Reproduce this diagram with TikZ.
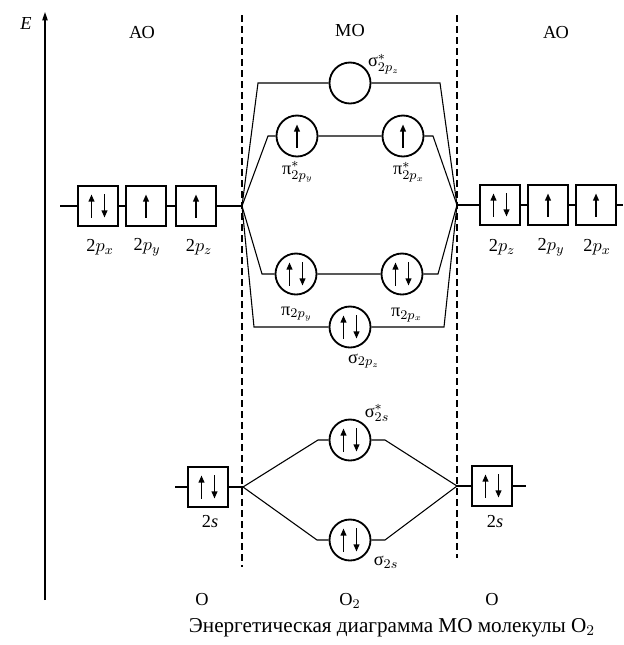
\documentclass[tikz,border=0pt]{standalone}
\usepackage{fontspec}
\setmainfont{Liberation Serif}
\usetikzlibrary{positioning,arrows.meta}
\tikzset{
  spin/.style={-{Triangle[length=4.4pt,width=3.4pt]}, line width=1.1pt},
  axis/.style={-{Triangle[length=5pt,width=3.2pt]}, line width=0.7pt},
  aobox/.style={draw, line width=1.1pt, minimum size=24pt, inner sep=0pt},
  mocirc/.style={draw, circle, line width=1.1pt, minimum size=24.6pt, inner sep=0pt},
  level/.style={line width=0.65pt},
  divider/.style={line width=0.75pt, dash pattern=on 4pt off 2.6pt},
  lab/.style={inner sep=1pt}
}
\newcommand{\spinup}[1]{\draw[spin] ([yshift=-7pt]#1.center) -- ([yshift=7pt]#1.center);}
\newcommand{\spinpair}[1]{%
  \draw[spin] ([xshift=-3.9pt,yshift=-7pt]#1.center) -- ([xshift=-3.9pt,yshift=7pt]#1.center);
  \draw[spin] ([xshift=3.9pt,yshift=7pt]#1.center) -- ([xshift=3.9pt,yshift=-7pt]#1.center);}

\begin{document}
\begin{tikzpicture}[x=0.6pt, y=-0.6pt, every node/.style={font=\fontsize{11}{13}\selectfont}]
  \useasboundingbox (0,0) rectangle (623,645);
  % energy axis and borders
  \coordinate (ebot) at (45,600);
  \coordinate (etop) at (45,12);
  \draw[axis] (ebot) -- (etop);
  \node[lab] (elab) at (26,23) {\textit{E}};
  \coordinate (dlt) at (242,15); \coordinate (dlb) at (242,567);
  \coordinate (drt) at (457,15); \coordinate (drb) at (457,558);
  \draw[divider] (dlt) -- (dlb);
  \draw[divider] (drt) -- (drb);
  \node[lab] (aoleft) at (142,33) {АО};
  \node[lab] (mohead) at (350,31) {МО};
  \node[lab] (aoright) at (556,33) {АО};

  % convergence points
  \coordinate (cL) at (242,206);  \coordinate (cR) at (457,205);
  \coordinate (cLs) at (243,487); \coordinate (cRs) at (457,486);

  % 2p atomic orbitals
  \node[aobox] (lpx) at (98,206) {};
  \node[aobox] (lpy) at (146,206) {};
  \node[aobox] (lpz) at (196,206) {};
  \node[aobox] (rpz) at (500,205) {};
  \node[aobox] (rpy) at (548,205) {};
  \node[aobox] (rpx) at (596,205) {};
  \coordinate (lpend) at (60,206); \coordinate (rpend) at (623,205);
  \draw[level] (lpend) -- (lpx) -- (lpy) -- (lpz) -- (cL);
  \draw[level] (cR) -- (rpz) -- (rpy) -- (rpx) -- (rpend);
  \spinpair{lpx} \spinup{lpy} \spinup{lpz}
  \spinpair{rpz} \spinup{rpy} \spinup{rpx}
  \node[lab] (llpx) at (100,247) {2$p_x$};
  \node[lab] (llpy) at (147,247) {2$p_y$};
  \node[lab] (llpz) at (199,247) {2$p_z$};
  \node[lab] (lrpz) at (502,247) {2$p_z$};
  \node[lab] (lrpy) at (551,247) {2$p_y$};
  \node[lab] (lrpx) at (597,247) {2$p_x$};

  % 2s atomic orbitals
  \node[aobox] (ls) at (208,487) {};
  \node[aobox] (rs) at (492,486) {};
  \coordinate (lsend) at (175,487); \coordinate (rsend) at (526,486);
  \draw[level] (lsend) -- (ls) -- (cLs);
  \draw[level] (cRs) -- (rs) -- (rsend);
  \spinpair{ls} \spinpair{rs}
  \node[lab] (lls) at (210,522) {2\textit{s}};
  \node[lab] (lrs) at (495,522) {2\textit{s}};

  % molecular orbitals
  \node[mocirc] (sgzs) at (350,83) {};
  \node[mocirc] (piys) at (297,136) {};
  \node[mocirc] (pixs) at (403,136) {};
  \node[mocirc] (piy) at (296,274) {};
  \node[mocirc] (pix) at (402,274) {};
  \node[mocirc] (sgz) at (350,327) {};
  \node[mocirc] (sgss) at (350,440) {};
  \node[mocirc] (sgs) at (350,540) {};

  \coordinate (sgzsL) at (258,83);  \coordinate (sgzsR) at (440,83);
  \coordinate (pisL) at (268,136);  \coordinate (pisR) at (433,136);
  \coordinate (piL) at (262,274);   \coordinate (piR) at (438,274);
  \coordinate (sgzL) at (254,327);  \coordinate (sgzR) at (444,327);
  \coordinate (sgssL) at (318,440); \coordinate (sgssR) at (385,440);
  \coordinate (sgsL) at (317,540);  \coordinate (sgsR) at (385,540);

  \draw[level] (cL) -- (sgzsL) -- (sgzs) -- (sgzsR) -- (cR);
  \draw[level] (cL) -- (pisL) -- (piys) -- (pixs) -- (pisR) -- (cR);
  \draw[level] (cL) -- (piL) -- (piy) -- (pix) -- (piR) -- (cR);
  \draw[level] (cL) -- (sgzL) -- (sgz) -- (sgzR) -- (cR);
  \draw[level] (cLs) -- (sgssL) -- (sgss) -- (sgssR) -- (cRs);
  \draw[level] (cLs) -- (sgsL) -- (sgs) -- (sgsR) -- (cRs);

  \spinup{piys} \spinup{pixs}
  \spinpair{piy} \spinpair{pix} \spinpair{sgz}
  \spinpair{sgss} \spinpair{sgs}

  \node[lab] (lsgzs) at (384,64) {σ$^*_{2p_z}$};
  \node[lab] (lpiys) at (298,172) {π$^*_{2p_y}$};
  \node[lab] (lpixs) at (409,172) {π$^*_{2p_x}$};
  \node[lab] (lpiy) at (297,314) {π$_{2p_y}$};
  \node[lab] (lpix) at (407,315) {π$_{2p_x}$};
  \node[lab] (lsgz) at (364,361) {σ$_{2p_z}$};
  \node[lab] (lsgss) at (377,413) {σ$^*_{2s}$};
  \node[lab] (lsgs) at (386,562) {σ$_{2s}$};

  % bottom labels
  \node[lab] (atl) at (202,600) {O};
  \node[lab] (mol) at (350,601) {O$_2$};
  \node[lab] (atr) at (492,600) {O};
  \node[lab, font=\fontsize{12.7}{15}\selectfont] (capt) at (392,628) {Энергетическая диаграмма МО молекулы O$_2$};
\end{tikzpicture}
\end{document}
